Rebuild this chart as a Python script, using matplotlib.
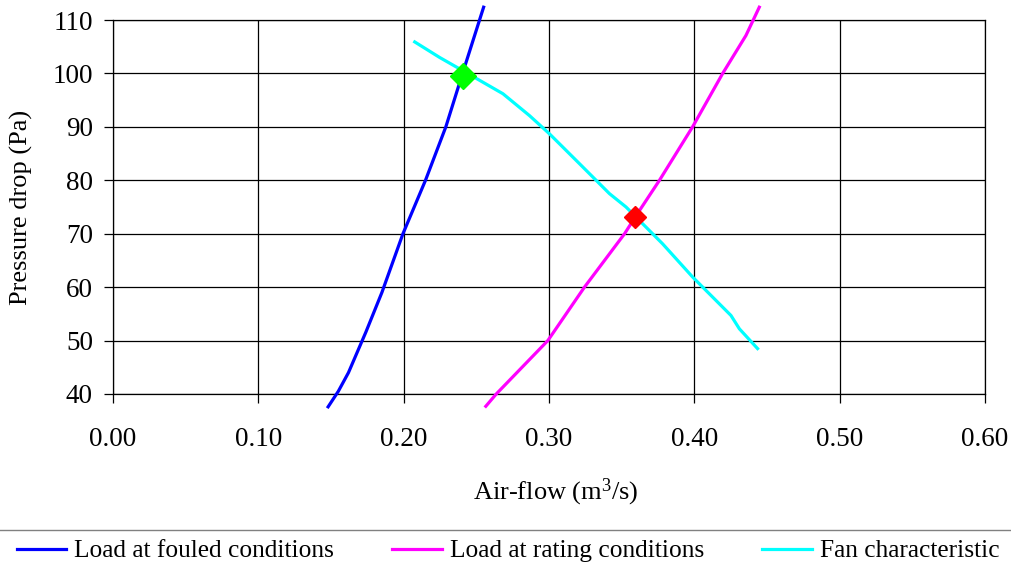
import matplotlib
matplotlib.use('Agg')
import matplotlib.pyplot as plt
from matplotlib.lines import Line2D

plt.rcParams['font.family'] = ['Liberation Serif', 'DejaVu Serif']
plt.rcParams['mathtext.fontset'] = 'custom'
plt.rcParams['mathtext.rm'] = 'Liberation Serif'
plt.rcParams['mathtext.it'] = 'Liberation Serif:italic'

# Load at fouled conditions (air-flow m3/s, pressure drop Pa)
fouled_x = [0.148, 0.155, 0.162, 0.174, 0.185, 0.1995, 0.215, 0.229, 0.2405, 0.255]
fouled_y = [37.6, 40.5, 44.0, 51.6, 59.0, 70.0, 80.0, 90.0, 100.0, 112.4]

# Load at rating conditions
rating_x = [0.2565, 0.2637, 0.2992, 0.3244, 0.352, 0.3595, 0.376, 0.3988, 0.4195, 0.4355, 0.4447]
rating_y = [37.7, 40.0, 50.0, 60.0, 70.0, 73.2, 80.0, 90.0, 100.0, 107.1, 112.4]

# Fan characteristic
fan_x = [0.2076, 0.2247, 0.2408, 0.2568, 0.2683, 0.2866, 0.3003, 0.321, 0.3416, 0.353,
         0.3782, 0.3988, 0.4252, 0.431, 0.4435]
fan_y = [105.9, 103.0, 100.5, 98.0, 96.2, 92.1, 88.7, 83.1, 77.5, 75.0,
         68.1, 61.9, 54.7, 52.2, 48.5]

# operating points
fouled_point = (0.2405, 99.6)
rating_point = (0.3595, 73.2)

xticks = [0.0, 0.1, 0.2, 0.3, 0.4, 0.5, 0.6]
yticks = [40, 50, 60, 70, 80, 90, 100, 110]

fig = plt.figure(figsize=(10.12, 5.72), dpi=100)
ax = fig.add_axes([0.1117, 0.3112, 0.8616, 0.6538])

ax.plot(fouled_x, fouled_y, color='#0000ff', lw=2.3, clip_on=False, label='Load at fouled conditions', zorder=3)
ax.plot(rating_x, rating_y, color='#ff00ff', lw=2.3, clip_on=False, label='Load at rating conditions', zorder=3)
ax.plot(fan_x, fan_y, color='#00ffff', lw=2.3, clip_on=False, label='Fan characteristic', zorder=3)
ax.plot([fouled_point[0]], [fouled_point[1]], marker='D', color='#00ff00', markersize=13, ls='none', zorder=4)
ax.plot([rating_point[0]], [rating_point[1]], marker='D', color='#ff0000', markersize=11, ls='none', zorder=4)

ax.set_xlim(0, 0.6)
ax.set_ylim(40, 110)
ax.set_xticks(xticks)
ax.set_xticklabels(['%.2f' % v for v in xticks])
ax.set_yticks(yticks)
ax.grid(True, color='black', lw=0.9)
ax.set_axisbelow(True)
for s in ax.spines.values():
    s.set_color('black')
    s.set_linewidth(0.9)
ax.tick_params(direction='out', length=6.5, width=0.9, labelsize=19.5)
ax.tick_params(axis='x', pad=17)
ax.tick_params(axis='y', pad=8)

ax.set_xlabel('Air-flow (m$^{3}$/s)', fontsize=19)
ax.xaxis.label.set_va('center')
ax.xaxis.set_label_coords(0.508, -0.262)
ax.set_ylabel('Pressure drop (Pa)', fontsize=19)
ax.yaxis.label.set_va('center')
ax.yaxis.set_label_coords(-0.105, 0.5)

# separator line above the legend
fig.add_artist(Line2D([0, 1], [1 - 530 / 572, 1 - 530 / 572], color='#808080', lw=1.0))

fig.legend(loc='center', bbox_to_anchor=(0.502, 1 - 551 / 572), ncol=3, frameon=False,
           fontsize=18.3, handlelength=1.95, handletextpad=0.3, columnspacing=2.3)

fig.savefig('out.png', dpi=100)
